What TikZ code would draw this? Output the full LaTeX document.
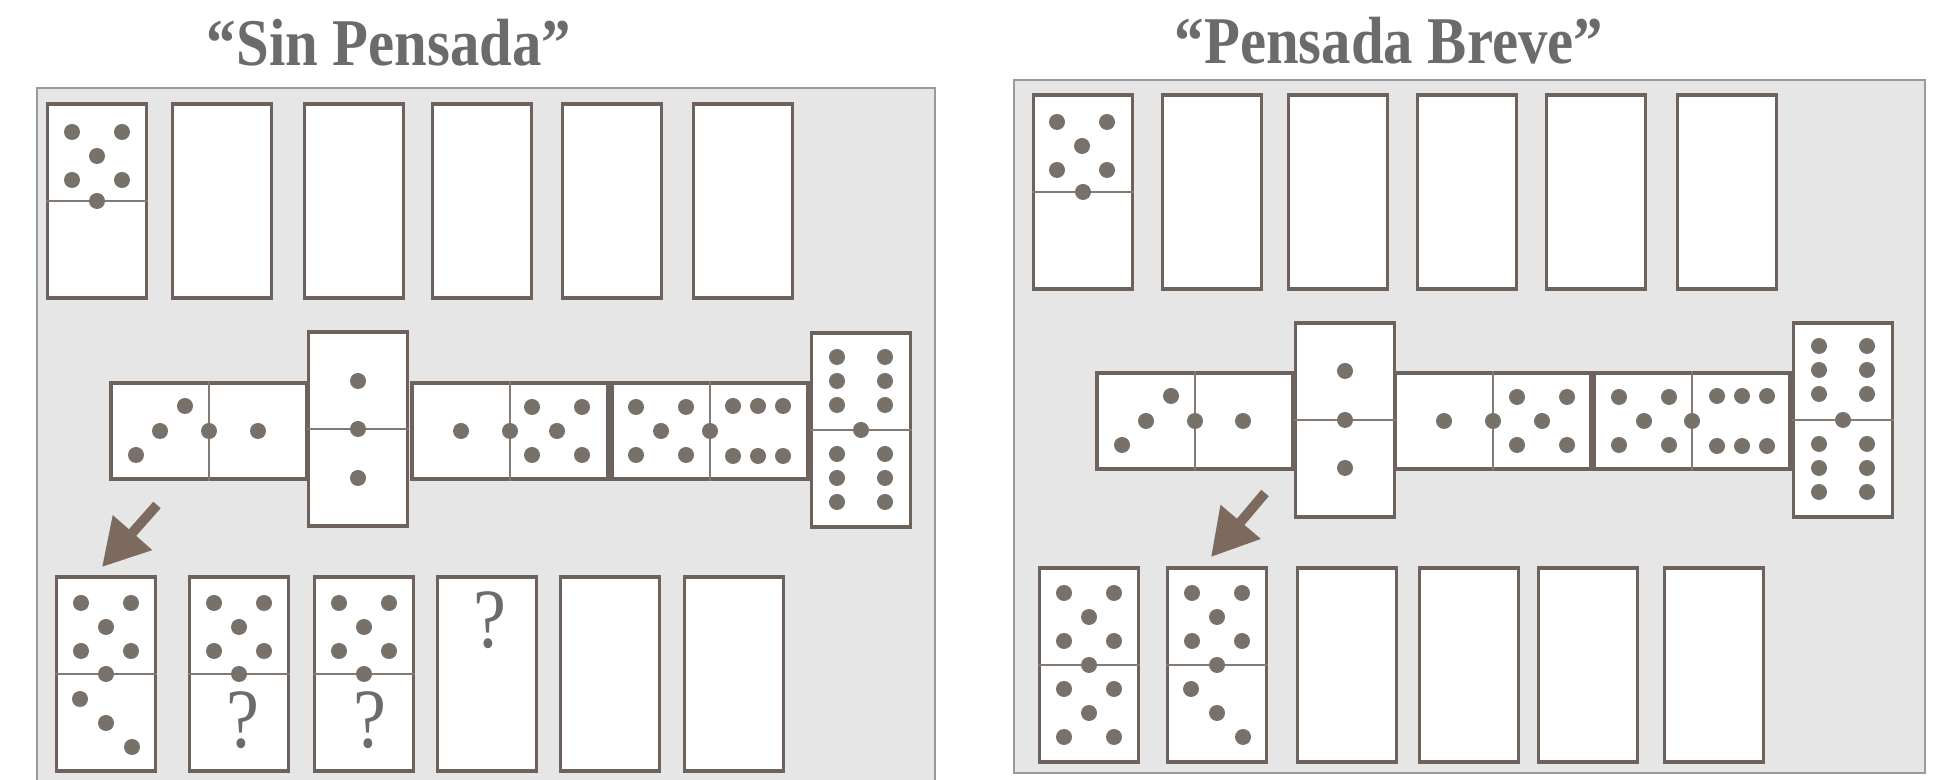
\documentclass[tikz,border=0pt]{standalone}
\usepackage{fontspec}
\setmainfont{Liberation Serif}
\newfontfamily\titlefont{Liberation Serif}[FakeStretch=0.88]
\usetikzlibrary{arrows.meta}
\definecolor{panelfill}{HTML}{E6E6E6}
\definecolor{panelframe}{HTML}{9A9A9A}
\definecolor{tileframe}{HTML}{6E625C}
\definecolor{pipgray}{HTML}{78716A}
\definecolor{inkgray}{HTML}{6B6B6B}
\definecolor{arrowbrown}{HTML}{7C6A5E}
\tikzset{
  panel/.style={draw=panelframe, fill=panelfill, line width=0.7pt},
  vtile/.style={rectangle, draw=tileframe, fill=white, line width=1.1pt,
                minimum width=9.9mm, minimum height=19.4mm, inner sep=0pt},
  htile/.style={vtile, minimum width=19.6mm, minimum height=9.6mm},
  split/.style={draw=tileframe!85, line width=0.45pt},
  pip/.style={fill=pipgray},
  title/.style={font=\titlefont\bfseries\fontsize{19}{22}\selectfont, text=inkgray, anchor=base},
  query/.style={font=\titlefont\fontsize{24}{24}\selectfont, text=inkgray, inner sep=0pt},
  pointer/.style={-{Triangle[length=4.6mm, width=5mm]}, line width=2.8pt, arrowbrown},
}
\newcommand{\dotat}[2]{\fill[pip] (#1,#2) circle[radius=0.8mm];}
\newcommand{\pipsone}[2]{\dotat{#1}{#2}}
\newcommand{\pipsthree}[2]{\foreach \dx/\dy in {-26/-24,0/0,26/24} {\dotat{#1+\dx}{#2+\dy}}}
\newcommand{\pipsthreeh}[2]{\foreach \dx/\dy in {-24/24,0/0,25/-25} {\dotat{#1+\dx}{#2+\dy}}}
\newcommand{\pipsfive}[2]{\foreach \dx/\dy in {-25/-24,25/-24,0/0,-25/24,25/24} {\dotat{#1+\dx}{#2+\dy}}}
\newcommand{\pipssixv}[2]{\foreach \dx in {-24,24} {\foreach \dy in {-24,0,24} {\dotat{#1+\dx}{#2+\dy}}}}
\newcommand{\pipssixh}[2]{\foreach \dx in {-25,0,25} {\foreach \dy in {-25,25} {\dotat{#1+\dx}{#2+\dy}}}}
\newcommand{\vdivide}[1]{\draw[split] (#1.west) -- (#1.east); \fill[pip] (#1.center) circle[radius=0.8mm];}
\newcommand{\hdivide}[1]{\draw[split] (#1.north) -- (#1.south); \fill[pip] (#1.center) circle[radius=0.8mm];}

\begin{document}
\begin{tikzpicture}[x=0.1mm, y=-0.1mm]
  \useasboundingbox (0,0) rectangle (1939,780);
  \fill[white] (0,0) rectangle (1939,780);
  \node[title] (ltitle) at (389,66) {“Sin Pensada”};
  \node[title] (rtitle) at (1389,64) {“Pensada Breve”};
  \draw[panel] (37,88) rectangle (935,786);
  \draw[panel] (1014,80) rectangle (1925,773);

  \foreach \i/\x in {1/97,2/222,3/354,4/482,5/612,6/743}
    \node[vtile] (lt\i) at (\x,201) {};
  \node[htile] (lm1) at (209,431) {};
  \node[vtile] (lm2) at (358,429) {};
  \node[htile] (lm3) at (510,431) {};
  \node[htile] (lm4) at (710,431) {};
  \node[vtile] (lm5) at (861,430) {};
  \foreach \i/\x in {1/106,2/239,3/364,4/487,5/610,6/734}
    \node[vtile] (lb\i) at (\x,674) {};
  \vdivide{lt1} \pipsfive{97}{156}
  \hdivide{lm1} \pipsthreeh{160}{431} \pipsone{258}{431}
  \vdivide{lm2} \pipsone{358}{381} \pipsone{358}{478}
  \hdivide{lm3} \pipsone{461}{431} \pipsfive{557}{431}
  \hdivide{lm4} \pipsfive{661}{431} \pipssixh{758}{431}
  \vdivide{lm5} \pipssixv{861}{381} \pipssixv{861}{478}
  \vdivide{lb1} \pipsfive{106}{627} \pipsthree{106}{723}
  \vdivide{lb2} \pipsfive{239}{627}
  \vdivide{lb3} \pipsfive{364}{627}
  \node[query] (lq2) at (243,720) {?};
  \node[query] (lq3) at (370,720) {?};
  \node[query] (lq4) at (490,620) {?};
  \coordinate (lpa) at (157,505);
  \coordinate (lpb) at (102,567);
  \draw[pointer] (lpa) -- (lpb);

  \foreach \i/\x in {1/1083,2/1212,3/1338,4/1467,5/1596,6/1727}
    \node[vtile] (rt\i) at (\x,192) {};
  \node[htile] (rm1) at (1195,421) {};
  \node[vtile] (rm2) at (1345,420) {};
  \node[htile] (rm3) at (1493,421) {};
  \node[htile] (rm4) at (1692,421) {};
  \node[vtile] (rm5) at (1843,420) {};
  \foreach \i/\x in {1/1089,2/1217,3/1347,4/1469,5/1588,6/1714}
    \node[vtile] (rb\i) at (\x,665) {};
  \vdivide{rt1} \pipsfive{1082}{146}
  \hdivide{rm1} \pipsthreeh{1146}{421} \pipsone{1243}{421}
  \vdivide{rm2} \pipsone{1345}{371} \pipsone{1345}{468}
  \hdivide{rm3} \pipsone{1444}{421} \pipsfive{1542}{421}
  \hdivide{rm4} \pipsfive{1644}{421} \pipssixh{1742}{421}
  \vdivide{rm5} \pipssixv{1843}{370} \pipssixv{1843}{468}
  \vdivide{rb1} \pipsfive{1089}{617} \pipsfive{1089}{713}
  \vdivide{rb2} \pipsfive{1217}{617} \pipsthree{1217}{713}
  \coordinate (rpa) at (1265,493);
  \coordinate (rpb) at (1211,557);
  \draw[pointer] (rpa) -- (rpb);
\end{tikzpicture}
\end{document}
